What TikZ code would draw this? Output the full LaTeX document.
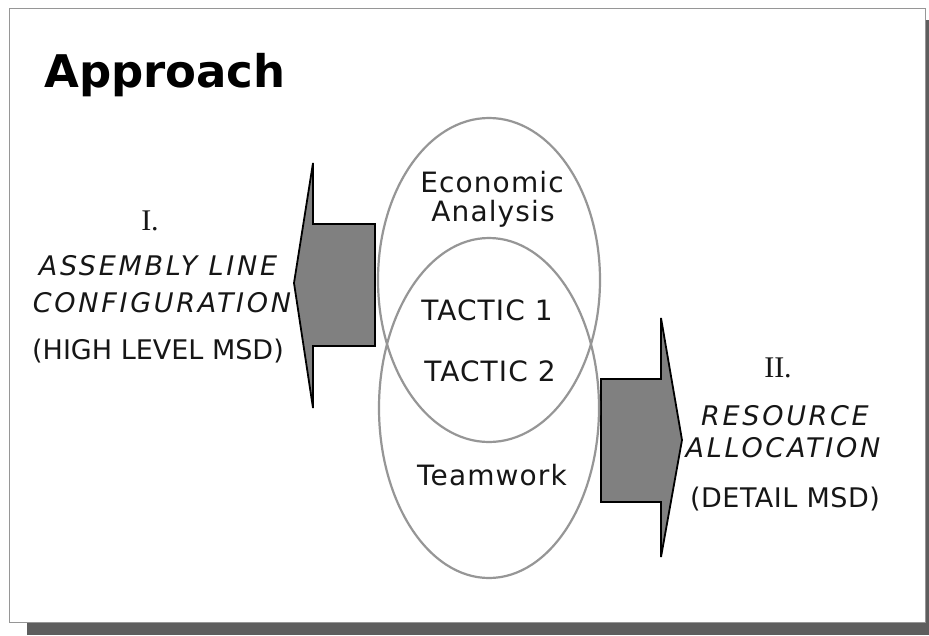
\documentclass[tikz,border=0pt]{standalone}
\usepackage{fontspec}
\setmainfont{DejaVu Sans}
\newfontfamily\romanfont{Liberation Serif}
\usetikzlibrary{shapes.geometric}
\definecolor{inkgray}{RGB}{22,22,22}
\definecolor{ringgray}{RGB}{150,150,150}
\definecolor{arrowfill}{RGB}{128,128,128}
\definecolor{framegray}{RGB}{150,150,150}
\definecolor{shadowgray}{RGB}{94,94,94}
\tikzset{
  ring/.style={ellipse, draw=ringgray, line width=2.2pt, inner sep=0pt},
  fatarrow/.style={fill=arrowfill, draw=black, line width=1.8pt, line join=miter},
  label/.style={text=inkgray, inner sep=0pt, anchor=base, font=\fontsize{28}{33}\selectfont\addfontfeatures{LetterSpace=4}},
  slanted/.style={label, font=\fontsize{27}{32}\selectfont\itshape\addfontfeatures{LetterSpace=10}},
  plainline/.style={label, font=\fontsize{27}{32}\selectfont},
  numeral/.style={label, font=\fontsize{30}{36}\selectfont\romanfont},
  heading/.style={text=black, inner sep=0pt, anchor=base west, font=\fontsize{45}{54}\selectfont\bfseries}
}
\begin{document}
\begin{tikzpicture}[x=1pt,y=-1pt]
  \useasboundingbox (0,0) rectangle (929,635);
  % slide with drop shadow
  \fill[shadowgray] (27,20) rectangle (929,635);
  \filldraw[fill=white, draw=framegray, line width=1pt] (9,8) rectangle (925,622);

  \node[heading] (title) at (44,87) {Approach};

  % left block arrow
  \coordinate (ltip) at (294,283);
  \draw[fatarrow] (ltip) -- (313,163) -- (313,224) -- (375,224) -- (375,346)
    -- (313,346) -- (313,408) -- cycle;
  % right block arrow
  \coordinate (rtip) at (682,440);
  \draw[fatarrow] (rtip) -- (661,318) -- (661,379) -- (601,379) -- (601,502)
    -- (661,502) -- (661,557) -- cycle;

  % overlapping ellipses
  \node[ring, minimum width=222pt, minimum height=324pt] (upper) at (489,280) {};
  \node[ring, minimum width=220pt, minimum height=340pt] (lower) at (489,408) {};

  % centre texts
  \node[label] (econ) at (492,192) {Economic};
  \node[label] (anal) at (493,221) {Analysis};
  \node[label] (tac1) at (487,320) {TACTIC 1};
  \node[label] (tac2) at (490,381) {TACTIC 2};
  \node[label] (team) at (492,485) {Teamwork};

  % left texts
  \node[numeral] (one) at (150,230) {I.};
  \node[slanted] (asm) at (158,275) {ASSEMBLY LINE};
  \node[slanted] (cfg) at (162,312) {CONFIGURATION};
  \node[plainline] (high) at (158,359) {(HIGH LEVEL MSD)};

  % right texts
  \node[numeral] (two) at (778,377) {II.};
  \node[slanted] (res) at (785,425) {RESOURCE};
  \node[slanted] (alloc) at (783,457) {ALLOCATION};
  \node[plainline, font=\fontsize{27}{32}\selectfont\addfontfeatures{LetterSpace=2}] (detail) at (785,507) {(DETAIL MSD)};
\end{tikzpicture}
\end{document}
